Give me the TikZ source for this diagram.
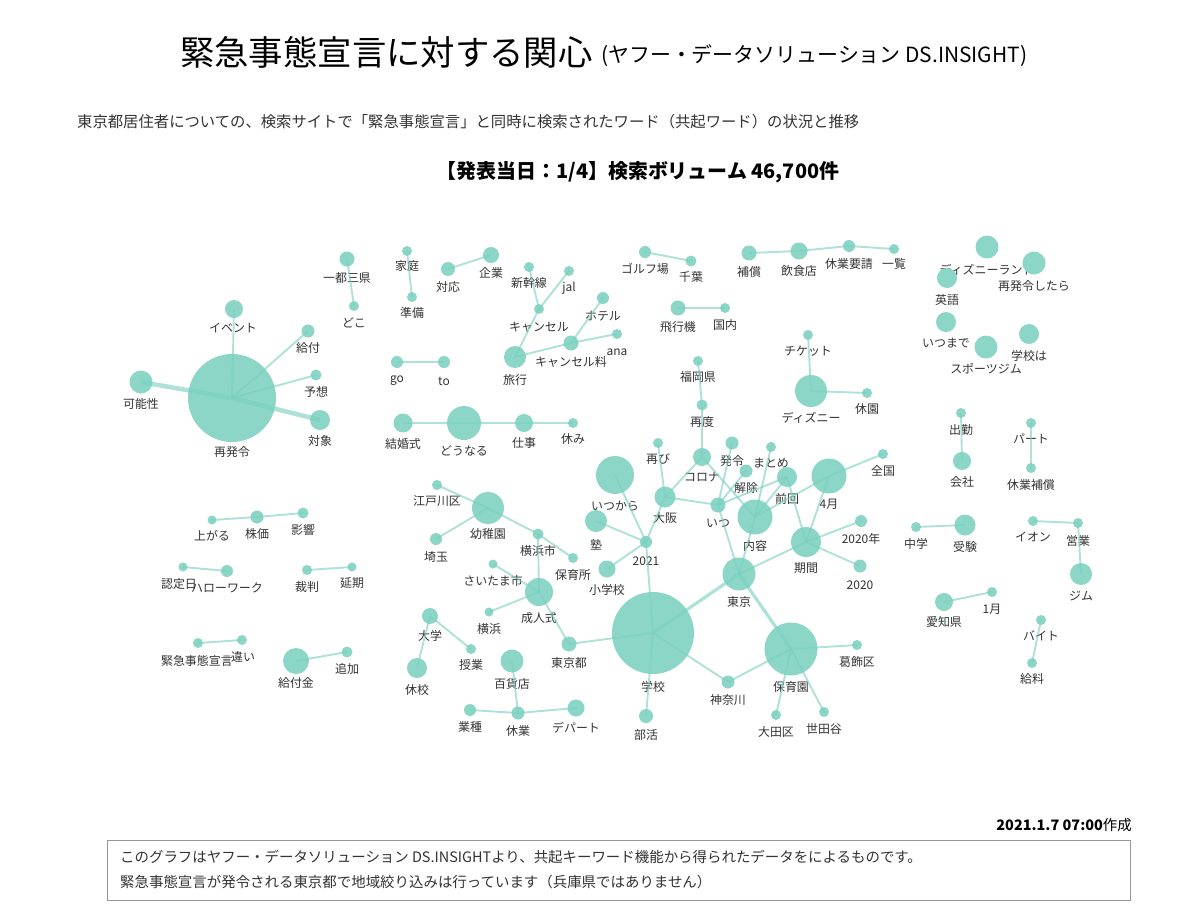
\documentclass[tikz,border=0pt]{standalone}
\usepackage{fontspec}
\setmainfont{Noto Sans CJK JP}
\definecolor{nodefill}{RGB}{140,214,200}
\definecolor{edgecol}{RGB}{120,208,190}
\definecolor{lbl}{RGB}{51,51,51}
\definecolor{boxline}{RGB}{150,150,150}
\tikzset{
  wnode/.style={circle,fill=nodefill,draw=none,inner sep=0pt},
  wlabel/.style={text=lbl,font=\fontsize{12}{13}\selectfont,inner sep=0pt},
  edge/.style={draw=edgecol,opacity=0.6,line width=1.9bp},
  thickedge/.style={draw=edgecol,opacity=0.6,line width=4.5bp},
  midedge/.style={draw=edgecol,opacity=0.6,line width=3.2bp},
}
\newcommand\wordnode[6]{\node[wnode,minimum size={2*#4bp}] (#1) at (#2,#3) {}; \node[wlabel] (#1l) at (#6) {#5};}
\begin{document}
\begin{tikzpicture}[x=1bp,y=-1bp]
\useasboundingbox (0,0) rectangle (1200,911);
\fill[white] (0,0) rectangle (1200,911);
% titles
\node[anchor=west,inner sep=0pt,font=\fontsize{34.5}{36}\selectfont] (title) at (180,52) {緊急事態宣言に対する関心};
\node[anchor=west,inner sep=0pt,font=\fontsize{21}{23}\selectfont] (subtitle) at (601,56) {(ヤフー・データソリューション DS.INSIGHT)};
\node[anchor=west,inner sep=0pt,text=lbl,font=\fontsize{15.4}{16}\selectfont] (desc) at (77,122) {東京都居住者についての、検索サイトで「緊急事態宣言」と同時に検索されたワード（共起ワード）の状況と推移};
\node[inner sep=0pt,font=\fontsize{20}{22}\selectfont\bfseries] (head) at (638,172) {【発表当日：1/4】検索ボリューム 46,700件};
\node[anchor=east,inner sep=0pt,font=\fontsize{14.5}{15}\selectfont] (date) at (1132,825) {\textbf{2021.1.7 07:00}作成};
\node[draw=boxline,line width=1bp,minimum width=1022bp,minimum height=60bp,inner sep=0pt] (notebox) at (619,870) {};
\node[anchor=west,inner sep=0pt,text=lbl,font=\fontsize{14.5}{15}\selectfont] (note1) at (120,857) {このグラフはヤフー・データソリューション DS.INSIGHTより、共起キーワード機能から得られたデータをによるものです。};
\node[anchor=west,inner sep=0pt,text=lbl,font=\fontsize{14.5}{15}\selectfont] (note2) at (120,882) {緊急事態宣言が発令される東京都で地域絞り込みは行っています（兵庫県ではありません）};
% nodes
\wordnode{sai}{232}{398}{44}{再発令}{232,452}
\wordnode{event}{234}{309}{9}{イベント}{233,328}
\wordnode{kyufu}{308}{331}{6.5}{給付}{308,348}
\wordnode{yoso}{316}{375}{5.5}{予想}{316,392}
\wordnode{taisho}{320}{420}{10}{対象}{320,441}
\wordnode{kano}{141}{382}{11.5}{可能性}{141,404}
\wordnode{itto}{347}{259}{7.5}{一都三県}{347,278}
\wordnode{doko}{354}{306}{5}{どこ}{354,323}
\wordnode{katei}{407}{251}{5}{家庭}{407,266}
\wordnode{junbi}{412}{297}{5}{準備}{412,313}
\wordnode{taiou}{448}{269}{7}{対応}{448,287}
\wordnode{kigyo}{491}{255}{8}{企業}{491,273}
\wordnode{shinkan}{529}{267}{5}{新幹線}{529,283}
\wordnode{jal}{569}{271}{5}{jal}{569,288}
\wordnode{cancel}{539}{309}{5}{キャンセル}{539,327}
\wordnode{hotel}{603}{298}{6}{ホテル}{603,316}
\wordnode{ana}{617}{334}{5}{ana}{617,352}
\wordnode{cancelr}{571}{343}{7.5}{キャンセル料}{571,362}
\wordnode{ryoko}{515}{357}{11}{旅行}{515,380}
\wordnode{go}{397}{362}{6}{go}{397,381}
\wordnode{to}{444}{362}{6}{to}{444,381}
\wordnode{kekkon}{403}{423}{9.5}{結婚式}{403,444}
\wordnode{dounaru}{464}{423}{17}{どうなる}{464,451}
\wordnode{shigoto}{524}{423}{9}{仕事}{524,443}
\wordnode{yasumi}{573}{423}{5}{休み}{573,439}
\wordnode{golf}{645}{252}{6}{ゴルフ場}{645,269}
\wordnode{chiba}{691}{261}{5.5}{千葉}{691,277}
\wordnode{hosho}{749}{253}{7.5}{補償}{749,272}
\wordnode{inshoku}{799}{251}{8.5}{飲食店}{799,271}
\wordnode{yosei}{849}{246}{6}{休業要請}{849,264}
\wordnode{ichiran}{894}{249}{5}{一覧}{894,264}
\wordnode{hikoki}{678}{308}{7.5}{飛行機}{678,327}
\wordnode{kokunai}{725}{308}{5}{国内}{725,325}
\wordnode{ticket}{808}{335}{5}{チケット}{808,351}
\wordnode{disney}{811}{391}{16}{ディズニー}{811,418}
\wordnode{kyuen}{867}{393}{5}{休園}{867,409}
\wordnode{fukuoka}{698}{361}{5}{福岡県}{698,377}
\wordnode{saido}{702}{405}{5.5}{再度}{702,422}
\wordnode{dland}{987}{247}{11.5}{ディズニーランド}{987,270}
\wordnode{saitara}{1034}{263}{11.5}{再発令したら}{1034,286}
\wordnode{eigo}{947}{278}{10}{英語}{947,300}
\wordnode{itsumade}{946}{322}{10}{いつまで}{946,343}
\wordnode{gakkowa}{1029}{334}{10}{学校は}{1029,356}
\wordnode{sports}{986}{347}{11.5}{スポーツジム}{986,369}
\wordnode{shukkin}{961}{413}{5}{出勤}{961,430}
\wordnode{kaisha}{962}{461}{9}{会社}{962,482}
\wordnode{part}{1031}{423}{5}{パート}{1031,439}
\wordnode{kyuhosho}{1031}{468}{5}{休業補償}{1031,485}
\wordnode{agaru}{212}{520}{4.5}{上がる}{212,536}
\wordnode{kabuka}{257}{517}{6.5}{株価}{257,534}
\wordnode{eikyo}{303}{513}{5.5}{影響}{303,530}
\wordnode{nintei}{183}{567}{4.5}{認定日}{179,584}
\wordnode{hello}{227}{571}{6}{ハローワーク}{227,588}
\wordnode{saiban}{307}{570}{5}{裁判}{307,587}
\wordnode{enki}{352}{567}{4.5}{延期}{352,583}
\node[wnode,minimum size=10bp] (kinkyu) at (198,643) {};
\node[wlabel,anchor=east] (kinkyul) at (233,661) {緊急事態宣言};
\wordnode{chigai}{242}{640}{5}{違い}{243,657}
\wordnode{kyufukin}{296}{661}{13}{給付金}{296,683}
\wordnode{tsuika}{347}{652}{5.5}{追加}{347,669}
\wordnode{edogawa}{437}{485}{5}{江戸川区}{437,501}
\wordnode{yochien}{488}{508}{16}{幼稚園}{488,534}
\wordnode{saitama}{436}{539}{6}{埼玉}{436,557}
\wordnode{yokoshi}{538}{534}{5.5}{横浜市}{538,551}
\wordnode{hoikusho}{573}{558}{5}{保育所}{573,575}
\wordnode{saitamashi}{493}{564}{4.5}{さいたま市}{493,581}
\wordnode{seijin}{539}{592}{14}{成人式}{539,618}
\wordnode{yokohama}{489}{612}{4.5}{横浜}{489,629}
\wordnode{tokyoto}{569}{644}{7.5}{東京都}{569,663}
\wordnode{daigaku}{430}{616}{8}{大学}{430,636}
\wordnode{jugyo}{471}{649}{5}{授業}{471,665}
\wordnode{kyuko}{417}{668}{10}{休校}{417,690}
\wordnode{hyakka}{512}{661}{11.5}{百貨店}{512,684}
\wordnode{gyoshu}{470}{710}{6}{業種}{470,727}
\wordnode{kyugyo}{518}{713}{6.5}{休業}{518,731}
\wordnode{depart}{576}{708}{8.5}{デパート}{576,728}
\wordnode{bukatsu}{646}{716}{7}{部活}{646,735}
\wordnode{gakko}{653}{633}{41}{学校}{653,687}
\wordnode{y2021}{646}{542}{6}{2021}{646,561}
\wordnode{itsukara}{615}{475}{19}{いつから}{615,506}
\wordnode{juku}{596}{521}{11}{塾}{596,545}
\wordnode{shogakko}{607}{569}{8.5}{小学校}{607,590}
\wordnode{osaka}{665}{497}{10.5}{大阪}{665,518}
\wordnode{futatabi}{658}{443}{5}{再び}{658,459}
\wordnode{corona}{702}{457}{9}{コロナ}{702,477}
\wordnode{hatsurei}{732}{443}{6.5}{発令}{732,461}
\wordnode{matome}{771}{447}{5}{まとめ}{771,463}
\wordnode{kaijo}{746}{471}{6.5}{解除}{746,488}
\wordnode{zenkai}{787}{477}{10}{前回}{787,499}
\wordnode{itsu}{718}{505}{7.5}{いつ}{718,523}
\wordnode{naiyo}{755}{517}{17.5}{内容}{755,546}
\wordnode{shigatsu}{829}{476}{17.5}{4月}{829,504}
\wordnode{zenkoku}{883}{454}{5}{全国}{883,471}
\wordnode{kikan}{806}{542}{15}{期間}{806,568}
\wordnode{nen2020}{861}{521}{6}{2020年}{861,539}
\wordnode{y2020}{860}{566}{6.5}{2020}{860,585}
\wordnode{tokyo}{739}{574}{16.5}{東京}{739,602}
\wordnode{hoikuen}{791}{649}{26.5}{保育園}{791,687}
\wordnode{katsushika}{857}{645}{5}{葛飾区}{857,662}
\wordnode{kanagawa}{728}{682}{6.5}{神奈川}{728,700}
\wordnode{ota}{776}{715}{5}{大田区}{776,732}
\wordnode{setagaya}{824}{712}{5}{世田谷}{824,729}
\wordnode{chugaku}{916}{527}{5}{中学}{916,544}
\wordnode{juken}{965}{525}{10.5}{受験}{965,547}
\wordnode{aeon}{1033}{521}{5}{イオン}{1033,537}
\wordnode{eigyo}{1078}{523}{5}{営業}{1078,541}
\wordnode{gym}{1081}{574}{11}{ジム}{1081,596}
\wordnode{aichi}{944}{602}{9}{愛知県}{944,622}
\wordnode{ichigatsu}{992}{592}{5}{1月}{992,609}
\wordnode{baito}{1041}{620}{5}{バイト}{1041,636}
\wordnode{kyuryo}{1032}{663}{5}{給料}{1032,679}
% edges
\foreach \a/\b in {sai/event,sai/kyufu,sai/yoso,itto/doko,katei/junbi,taiou/kigyo,
  shinkan/cancel,jal/cancel,cancel/ryoko,ryoko/cancelr,cancelr/hotel,cancelr/ana,go/to,
  kekkon/dounaru,dounaru/shigoto,shigoto/yasumi,golf/chiba,hosho/inshoku,inshoku/yosei,yosei/ichiran,
  hikoki/kokunai,ticket/disney,disney/kyuen,fukuoka/saido,saido/corona,shukkin/kaisha,part/kyuhosho,
  agaru/kabuka,kabuka/eikyo,nintei/hello,saiban/enki,kinkyu/chigai,kyufukin/tsuika,
  edogawa/yochien,yochien/yokoshi,yochien/saitama,yokoshi/hoikusho,yokoshi/seijin,seijin/saitamashi,
  seijin/yokohama,seijin/tokyoto,tokyoto/gakko,daigaku/kyuko,daigaku/jugyo,hyakka/kyugyo,gyoshu/kyugyo,
  kyugyo/depart,gakko/bukatsu,gakko/y2021,gakko/kanagawa,y2021/itsukara,y2021/juku,y2021/shogakko,
  y2021/osaka,osaka/futatabi,osaka/corona,osaka/itsu,corona/naiyo,hatsurei/itsu,kaijo/itsu,itsu/zenkai,
  itsu/tokyo,matome/naiyo,naiyo/zenkai,naiyo/shigatsu,naiyo/tokyo,zenkai/kikan,shigatsu/kikan,
  shigatsu/zenkoku,kikan/nen2020,kikan/y2020,tokyo/kikan,kanagawa/hoikuen,hoikuen/katsushika,
  hoikuen/ota,hoikuen/setagaya,chugaku/juken,aeon/eigyo,eigyo/gym,aichi/ichigatsu,baito/kyuryo}
  \draw[edge] (\a.center) -- (\b.center);
\draw[thickedge] (sai.center) -- (kano.center);
\draw[thickedge] (sai.center) -- (taisho.center);
\draw[midedge] (tokyo.center) -- (hoikuen.center);
\draw[midedge] (gakko.center) -- (tokyo.center);
\end{tikzpicture}
\end{document}
